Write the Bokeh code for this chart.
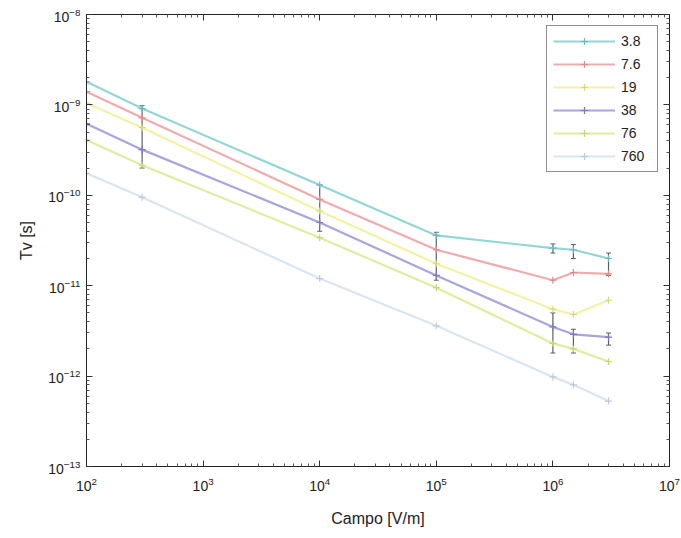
from bokeh.plotting import figure
from bokeh.models import LogAxis, FixedTicker, Legend, LegendItem, Range1d, CustomJSTickFormatter
from bokeh.embed import file_html
from bokeh.resources import INLINE

# ---- data ----
campo = [1e2, 3e2, 1e4, 1e5, 1e6, 1.5e6, 3e6]
series_labels = ["3.8", "7.6", "19", "38", "76", "760"]
tv_3_8 = [1.8e-9, 9.1e-10, 1.3e-10, 3.6e-11, 2.6e-11, 2.5e-11, 2.0e-11]
tv_7_6 = [1.4e-9, 7.2e-10, 9.0e-11, 2.5e-11, 1.15e-11, 1.4e-11, 1.35e-11]
tv_19 = [1.05e-9, 5.6e-10, 6.7e-11, 1.75e-11, 5.5e-12, 4.8e-12, 6.9e-12]
tv_38 = [6.2e-10, 3.2e-10, 5.0e-11, 1.3e-11, 3.5e-12, 2.9e-12, 2.7e-12]
tv_76 = [4.1e-10, 2.15e-10, 3.4e-11, 9.5e-12, 2.3e-12, 2.0e-12, 1.45e-12]
tv_760 = [1.75e-10, 9.5e-11, 1.2e-11, 3.6e-12, 9.8e-13, 8.0e-13, 5.3e-13]

err_x = [3e2, 1e4, 1e5, 1e6, 1.5e6, 3e6, 3e6, 1e6, 1.5e6]
err_lo = [2.0e-10, 4.0e-11, 1.15e-11, 1.8e-12, 1.8e-12, 1.3e-11, 2.2e-12, 2.3e-11, 2.0e-11]
err_hi = [9.8e-10, 1.3e-10, 3.9e-11, 5.0e-12, 3.3e-12, 2.3e-11, 3.0e-12, 2.9e-11, 2.85e-11]

x_major = [1e2, 1e3, 1e4, 1e5, 1e6, 1e7]
y_major = [1e-13, 1e-12, 1e-11, 1e-10, 1e-9, 1e-8]

series = [tv_3_8, tv_7_6, tv_19, tv_38, tv_76, tv_760]
colors = ["#92d6d6", "#f0acac", "#f2f2a6", "#aaa4dc", "#e0eca2", "#d8e6f2"]
mcolors = ["#6cb8bc", "#e08a8a", "#d8d87a", "#7e76c4", "#c4d676", "#b8cce0"]

x_minor = [k * 10.0 ** d for d in range(2, 7) for k in range(2, 10)]
y_minor = [k * 10.0 ** d for d in range(-13, -8) for k in range(2, 10)]

FONT = "Liberation Sans"

p = figure(width=681, height=538, x_axis_type="log", y_axis_type="log",
           x_range=Range1d(1e2, 1e7), y_range=Range1d(1e-13, 1e-8),
           output_backend="svg", toolbar_location=None, title=None,
           min_border_left=86, min_border_right=12, min_border_top=14,
           min_border_bottom=72)

p.xgrid.visible = False
p.ygrid.visible = False
p.outline_line_color = "#222222"
p.outline_line_width = 1

def style_axis(ax, ticks, minor, labels=True):
    ax.ticker = FixedTicker(ticks=ticks, minor_ticks=minor)
    ax.major_tick_in = 6
    ax.major_tick_out = 0
    ax.minor_tick_in = 3
    ax.minor_tick_out = 0
    ax.axis_line_color = "#222222"
    ax.major_tick_line_color = "#333333"
    ax.minor_tick_line_color = "#555555"
    if labels:
        ax.major_label_text_font = FONT
        ax.major_label_text_font_size = "14px"
        ax.major_label_text_color = "#222222"
    else:
        ax.formatter = CustomJSTickFormatter(code="return '';")
        ax.major_label_standoff = 0

style_axis(p.xaxis[0], x_major, x_minor)
style_axis(p.yaxis[0], y_major, y_minor)
p.xaxis[0].major_label_standoff = 10
p.yaxis[0].major_label_standoff = 6

p.xaxis[0].axis_label = "Campo [V/m]"
p.yaxis[0].axis_label = "Tv [s]"
for ax in (p.xaxis[0], p.yaxis[0]):
    ax.axis_label_text_font = FONT
    ax.axis_label_text_font_size = "16px"
    ax.axis_label_text_font_style = "normal"
    ax.axis_label_text_color = "#222222"
p.xaxis[0].axis_label_standoff = 16
p.yaxis[0].axis_label_standoff = 10

top = LogAxis()
style_axis(top, x_major, x_minor, labels=False)
right = LogAxis()
style_axis(right, y_major, y_minor, labels=False)
p.add_layout(top, "above")
p.add_layout(right, "right")

# error bars
p.segment(x0=err_x, x1=err_x, y0=err_lo, y1=err_hi, line_color="#5a6262", line_width=1.2)
p.scatter(x=err_x, y=err_lo, marker="dash", size=5, line_color="#5a6262", line_width=1)
p.scatter(x=err_x, y=err_hi, marker="dash", size=5, line_color="#5a6262", line_width=1)

items = []
for lab, ys, c, mc in zip(series_labels, series, colors, mcolors):
    r1 = p.line(x=campo, y=ys, line_color=c, line_width=2.2)
    r2 = p.scatter(x=campo, y=ys, marker="cross", size=7, line_color=mc, line_width=1.2)
    items.append(LegendItem(label=lab, renderers=[r1, r2]))

legend = Legend(items=items, location="top_right")
legend.label_text_font = FONT
legend.label_text_font_size = "14px"
legend.label_text_color = "#222222"
legend.glyph_width = 62
legend.glyph_height = 18
legend.label_height = 18
legend.label_width = 30
legend.label_standoff = 6
legend.spacing = 5
legend.padding = 6
legend.margin = 11
legend.border_line_color = "#222222"
legend.border_line_width = 1.2
legend.background_fill_alpha = 1
p.add_layout(legend)

open("out.html", "w").write(file_html(p, INLINE))
